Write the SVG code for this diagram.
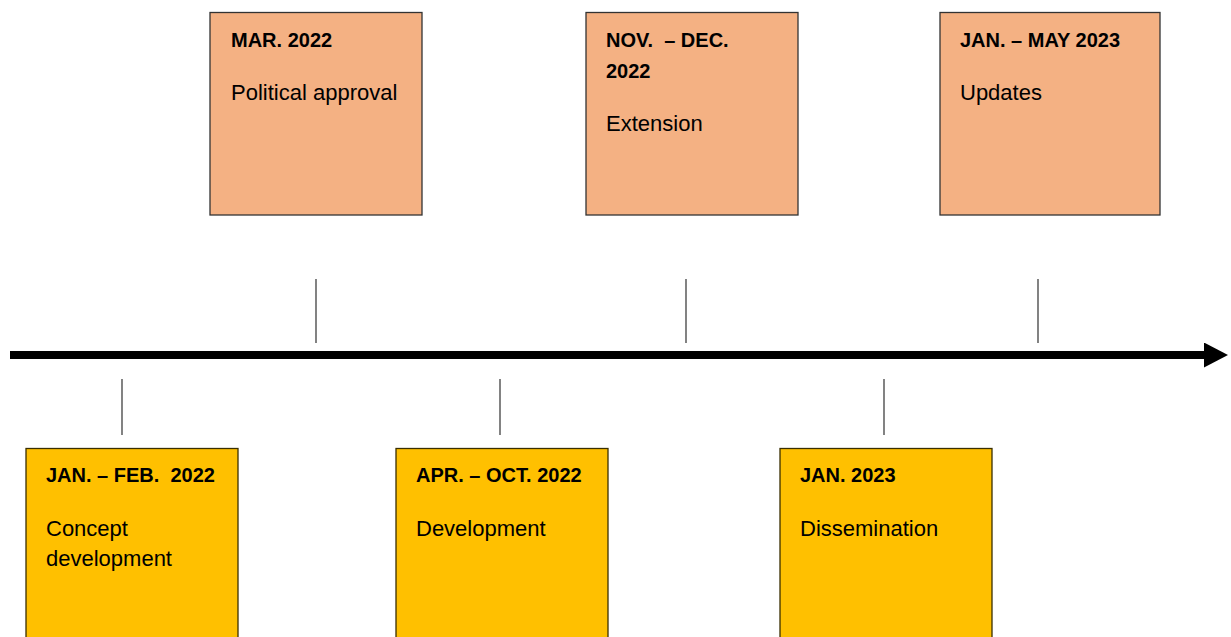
<svg xmlns="http://www.w3.org/2000/svg" width="1231" height="637" viewBox="0 0 1231 637">
<style>
.top{fill:#F4B183;stroke:#333;stroke-width:1.3}
.bot{fill:#FFC000;stroke:#3a2f00;stroke-width:1.3}
.t{font-family:"Liberation Sans",Arial,sans-serif;font-size:22px;fill:#000}
.b{font-weight:bold;font-size:20px}
.tick{stroke:#404040;stroke-width:1.3}
</style>
<defs>
<marker id="ah" markerWidth="24" markerHeight="25" refX="0" refY="12.5" orient="auto" markerUnits="userSpaceOnUse" viewBox="0 0 24 25">
<path d="M0,0 L24,12.5 L0,25 Z" fill="#000"/>
</marker>
</defs>
<g id="connectors">
<line x1="10" y1="355" x2="1204" y2="355" stroke="#000" stroke-width="8" marker-end="url(#ah)"/>
<line class="tick" x1="316" y1="279" x2="316" y2="343"/>
<line class="tick" x1="686" y1="279" x2="686" y2="343"/>
<line class="tick" x1="1038" y1="279" x2="1038" y2="343"/>
<line class="tick" x1="122" y1="379" x2="122" y2="435"/>
<line class="tick" x1="500" y1="379" x2="500" y2="435"/>
<line class="tick" x1="884" y1="379" x2="884" y2="435"/>
</g>
<g id="mar2022">
<rect class="top" x="210" y="12.5" width="212" height="202.5"/>
<text class="t b" x="231" y="47">MAR. 2022</text>
<text class="t" x="231" y="100">Political approval</text>
</g>
<g id="novdec2022">
<rect class="top" x="586" y="12.5" width="212" height="202.5"/>
<text class="t b" x="606" y="47" xml:space="preserve">NOV.  – DEC.</text>
<text class="t b" x="606" y="78">2022</text>
<text class="t" x="606" y="131">Extension</text>
</g>
<g id="janmay2023">
<rect class="top" x="940" y="12.5" width="220" height="202.5"/>
<text class="t b" x="960" y="47">JAN. – MAY 2023</text>
<text class="t" x="960" y="100">Updates</text>
</g>
<g id="janfeb2022">
<rect class="bot" x="26" y="448.5" width="212" height="200"/>
<text class="t b" x="46" y="482" xml:space="preserve">JAN. – FEB.  2022</text>
<text class="t" x="46" y="536">Concept</text>
<text class="t" x="46" y="566">development</text>
</g>
<g id="aproct2022">
<rect class="bot" x="396" y="448.5" width="212" height="200"/>
<text class="t b" x="416" y="482">APR. – OCT. 2022</text>
<text class="t" x="416" y="536">Development</text>
</g>
<g id="jan2023">
<rect class="bot" x="780" y="448.5" width="212" height="200"/>
<text class="t b" x="800" y="482">JAN. 2023</text>
<text class="t" x="800" y="536">Dissemination</text>
</g>
</svg>
